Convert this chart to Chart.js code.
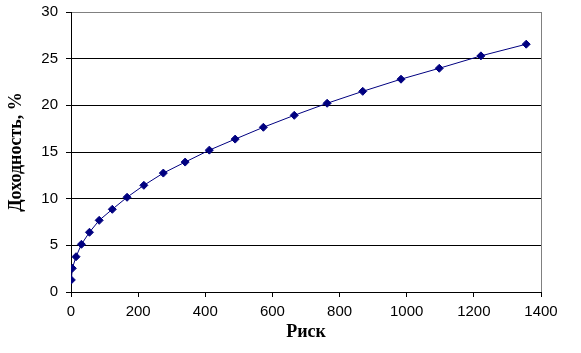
<!DOCTYPE html>
<html>
<head>
<meta charset="utf-8">
<script src="https://cdn.jsdelivr.net/npm/chart.js@4"></script>
<style>
  html, body { margin: 0; padding: 0; background: #fff; }
  #wrap { width: 581px; height: 353px; }
</style>
</head>
<body>
<div id="wrap"><canvas id="chart"></canvas></div>
<script>
// риск (x) и доходность (y)
const risk = [1, 4, 15, 31, 55, 84, 123, 167, 217, 275, 340, 412, 489, 573, 665, 763, 869, 983, 1097, 1221, 1356];
const yieldPct = [1.29, 2.54, 3.78, 5.11, 6.40, 7.68, 8.86, 10.15, 11.43, 12.74, 13.92, 15.2, 16.38, 17.65, 18.93, 20.22, 21.5, 22.8, 23.97, 25.3, 26.55];
const xTicks = [0, 200, 400, 600, 800, 1000, 1200, 1400];
const yTicks = [0, 5, 10, 15, 20, 25, 30];

const points = risk.map((r, i) => ({ x: r, y: yieldPct[i] }));

const ctx = document.getElementById('chart');

new Chart(ctx, {
    type: 'scatter',
    data: {
        datasets: [{
            data: points,
            showLine: true,
            borderColor: '#000080',
            borderWidth: 1,
            backgroundColor: '#000080',
            pointStyle: 'rectRot',
            pointRadius: 4,
            pointHoverRadius: 4,
            tension: 0
        }]
    },
    options: {
        responsive: true,
        maintainAspectRatio: false,
        animation: false,
        layout: {
            padding: { top: 12, right: 40, left: 0, bottom: 10 }
        },
        plugins: {
            legend: { display: false },
            tooltip: { enabled: false }
        },
        scales: {
            x: {
                type: 'linear',
                min: 0,
                max: 1400,
                afterBuildTicks: s => { s.ticks = xTicks.map(v => ({ value: v })); },
                afterFit: s => { s.height = 51; },
                border: { color: '#000', width: 1 },
                grid: {
                    drawOnChartArea: true,
                    color: c => (c.tick && c.tick.value === 1400) ? '#808080' : 'rgba(0,0,0,0)',
                    tickColor: '#000',
                    tickLength: 5
                },
                ticks: {
                    color: '#000',
                    padding: 6,
                    maxRotation: 0,
                    callback: v => String(v),
                    font: { family: 'Liberation Sans, Arial', size: 15 }
                },
                title: {
                    display: true,
                    text: 'Риск',
                    color: '#000',
                    padding: { top: 0, bottom: 0 },
                    font: { family: 'Liberation Serif, Times New Roman', size: 18, weight: 'bold' }
                }
            },
            y: {
                min: 0,
                max: 30,
                afterBuildTicks: s => { s.ticks = yTicks.map(v => ({ value: v })); },
                afterFit: s => { s.width = 71; s.paddingTop = 0; s.paddingBottom = 0; },
                border: { color: '#000', width: 1 },
                grid: {
                    color: c => (c.tick && c.tick.value === 30) ? '#808080' : (c.tick && c.tick.value === 0 ? 'rgba(0,0,0,0)' : '#000'),
                    tickColor: '#000',
                    tickLength: 5
                },
                ticks: {
                    color: '#000',
                    padding: 8,
                    callback: v => String(v),
                    font: { family: 'Liberation Sans, Arial', size: 15 }
                },
                title: {
                    display: true,
                    text: 'Доходность, %',
                    color: '#000',
                    padding: { top: 6, bottom: 0 },
                    font: { family: 'Liberation Serif, Times New Roman', size: 18, weight: 'bold' }
                }
            }
        }
    }
});
</script>
</body>
</html>
